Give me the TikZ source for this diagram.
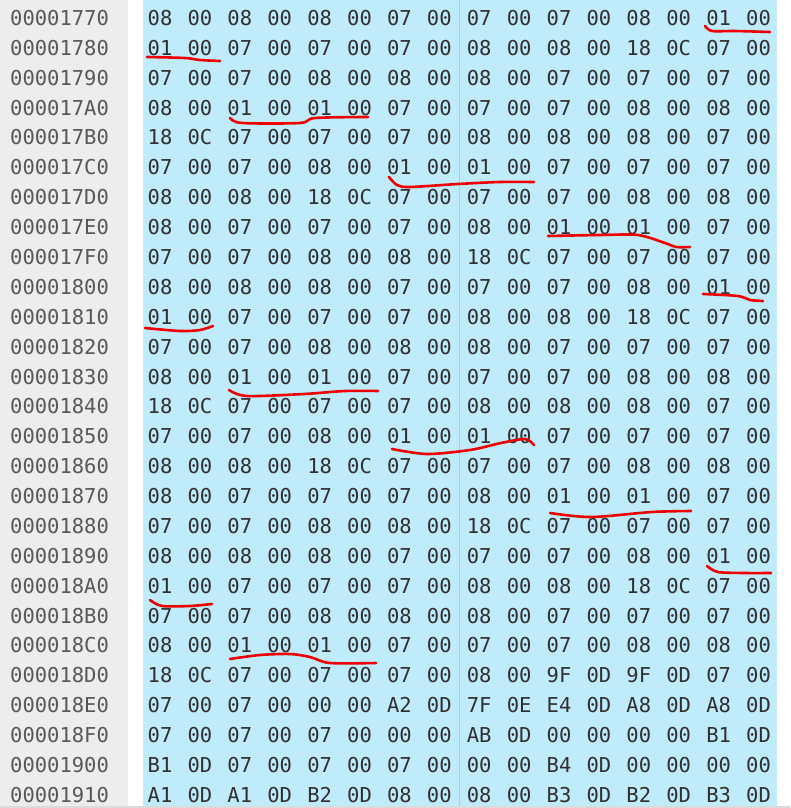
\documentclass[tikz,border=0pt]{standalone}
\usepackage{fontspec}
\newfontfamily\hexfont{DejaVu Sans Mono}
\definecolor{hexblue}{RGB}{191,235,251}
\definecolor{addrgray}{RGB}{237,237,237}
\definecolor{hextext}{RGB}{48,48,48}
\definecolor{addrtext}{RGB}{88,88,88}
\definecolor{penred}{RGB}{238,0,0}

\begin{document}
\begin{tikzpicture}[x=1pt, y=-1pt,
    byte/.style={inner sep=0pt, text=hextext, font=\hexfont\fontsize{20.5}{24}\selectfont},
    addr/.style={inner sep=0pt, anchor=west, text=addrtext, font=\hexfont\fontsize{20.5}{24}\selectfont},
    scribble/.style={draw=penred, line width=2.6pt, line cap=round, line join=round}]
    \useasboundingbox (0,0) rectangle (790,808);
    \fill[addrgray] (0,0) rectangle (128,805.5);
    \fill[hexblue] (143,0) rectangle (777,805.5);
    \draw[gray!45, line width=1pt] (459,0) -- (459,805.5);
    \fill[gray!28] (0,805.5) rectangle (790,808);
    \foreach \bytes [count=\r from 0] in {
        {08,00,08,00,08,00,07,00,07,00,07,00,08,00,01,00},
        {01,00,07,00,07,00,07,00,08,00,08,00,18,0C,07,00},
        {07,00,07,00,08,00,08,00,08,00,07,00,07,00,07,00},
        {08,00,01,00,01,00,07,00,07,00,07,00,08,00,08,00},
        {18,0C,07,00,07,00,07,00,08,00,08,00,08,00,07,00},
        {07,00,07,00,08,00,01,00,01,00,07,00,07,00,07,00},
        {08,00,08,00,18,0C,07,00,07,00,07,00,08,00,08,00},
        {08,00,07,00,07,00,07,00,08,00,01,00,01,00,07,00},
        {07,00,07,00,08,00,08,00,18,0C,07,00,07,00,07,00},
        {08,00,08,00,08,00,07,00,07,00,07,00,08,00,01,00},
        {01,00,07,00,07,00,07,00,08,00,08,00,18,0C,07,00},
        {07,00,07,00,08,00,08,00,08,00,07,00,07,00,07,00},
        {08,00,01,00,01,00,07,00,07,00,07,00,08,00,08,00},
        {18,0C,07,00,07,00,07,00,08,00,08,00,08,00,07,00},
        {07,00,07,00,08,00,01,00,01,00,07,00,07,00,07,00},
        {08,00,08,00,18,0C,07,00,07,00,07,00,08,00,08,00},
        {08,00,07,00,07,00,07,00,08,00,01,00,01,00,07,00},
        {07,00,07,00,08,00,08,00,18,0C,07,00,07,00,07,00},
        {08,00,08,00,08,00,07,00,07,00,07,00,08,00,01,00},
        {01,00,07,00,07,00,07,00,08,00,08,00,18,0C,07,00},
        {07,00,07,00,08,00,08,00,08,00,07,00,07,00,07,00},
        {08,00,01,00,01,00,07,00,07,00,07,00,08,00,08,00},
        {18,0C,07,00,07,00,07,00,08,00,9F,0D,9F,0D,07,00},
        {07,00,07,00,00,00,A2,0D,7F,0E,E4,0D,A8,0D,A8,0D},
        {07,00,07,00,07,00,00,00,AB,0D,00,00,00,00,B1,0D},
        {B1,0D,07,00,07,00,07,00,00,00,B4,0D,00,00,00,00},
        {A1,0D,A1,0D,B2,0D,08,00,08,00,B3,0D,B2,0D,B3,0D}}
    {
        \pgfmathsetmacro\addrhex{Hex(6000+16*\r)}
        \node[addr] (a-\r) at (10,18+29.88*\r) {0000\addrhex};
        \foreach \b [count=\c from 0] in \bytes
            \node[byte] (b-\r-\c) at (160+39.9*\c,18+29.88*\r) {\b};
    }
    % red pen marks under the 01 00 pairs
    \draw[scribble] plot[smooth] coordinates {(705,26) (712,31) (735,31) (770,32)};
    \draw[scribble] plot[smooth] coordinates {(147,57) (185,58) (200,60) (220,61)};
    \draw[scribble] plot[smooth] coordinates {(230,118) (242,123) (300,123) (315,118) (368,117)};
    \draw[scribble] plot[smooth] coordinates {(389,177) (397,185) (410,187) (458,184) (500,182) (534,182)};
    \draw[scribble] plot[smooth] coordinates {(548,236) (600,235) (638,235) (665,243) (676,247) (690,247)};
    \draw[scribble] plot[smooth] coordinates {(703,294) (738,296) (750,300) (763,301)};
    \draw[scribble] plot[smooth] coordinates {(145,328) (180,331) (200,330) (213,326)};
    \draw[scribble] plot[smooth] coordinates {(229,390) (247,396) (304,394) (345,391) (378,391)};
    \draw[scribble] plot[smooth] coordinates {(392,449) (427,454) (470,450) (501,443) (525,439) (534,445)};
    \draw[scribble] plot[smooth] coordinates {(550,513) (591,517) (652,512) (691,511)};
    \draw[scribble] plot[smooth] coordinates {(707,566) (718,572) (745,573) (771,573)};
    \draw[scribble] plot[smooth] coordinates {(150,600) (162,606) (190,606) (212,604)};
    \draw[scribble] plot[smooth] coordinates {(230,659) (260,655) (290,654) (310,657) (330,663) (376,663)};
\end{tikzpicture}
\end{document}
